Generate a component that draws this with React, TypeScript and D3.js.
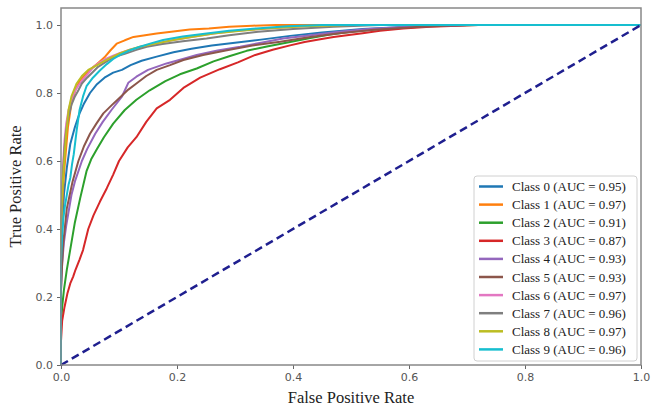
import { useEffect, useRef } from 'react';
import * as d3 from 'd3';

// ROC points, one pair of arrays per class
const classNames = ['Class 0', 'Class 1', 'Class 2', 'Class 3', 'Class 4', 'Class 5', 'Class 6', 'Class 7', 'Class 8', 'Class 9'];
const aucValues = ['0.95', '0.97', '0.91', '0.87', '0.93', '0.93', '0.97', '0.96', '0.97', '0.96'];

const fpr0 = [0, 0, 0.002, 0.005, 0.01, 0.016, 0.024, 0.032, 0.04, 0.05, 0.062, 0.075, 0.09, 0.105, 0.12, 0.139, 0.165, 0.194, 0.225, 0.26, 0.3, 0.345, 0.395, 0.45, 0.52, 0.6, 0.68, 0.8, 1];
const tpr0 = [0, 0.28, 0.4, 0.5, 0.58, 0.65, 0.7, 0.74, 0.77, 0.8, 0.826, 0.845, 0.86, 0.868, 0.882, 0.895, 0.907, 0.92, 0.93, 0.94, 0.948, 0.957, 0.968, 0.978, 0.988, 0.995, 1, 1, 1];

const fpr1 = [0, 0, 0.001, 0.003, 0.005, 0.008, 0.012, 0.018, 0.025, 0.033, 0.045, 0.055, 0.065, 0.075, 0.085, 0.096, 0.11, 0.125, 0.145, 0.165, 0.19, 0.222, 0.255, 0.29, 0.33, 0.37, 1];
const tpr1 = [0, 0.3, 0.42, 0.5, 0.56, 0.62, 0.7, 0.77, 0.81, 0.838, 0.86, 0.875, 0.89, 0.905, 0.925, 0.945, 0.955, 0.965, 0.97, 0.975, 0.98, 0.987, 0.99, 0.995, 0.998, 1, 1];

const fpr2 = [0, 0, 0.002, 0.005, 0.01, 0.016, 0.024, 0.033, 0.044, 0.052, 0.062, 0.074, 0.09, 0.11, 0.13, 0.153, 0.18, 0.205, 0.234, 0.263, 0.29, 0.32, 0.355, 0.395, 0.43, 0.464, 0.5, 0.55, 0.6, 0.65, 0.72, 1];
const tpr2 = [0, 0.12, 0.17, 0.22, 0.28, 0.34, 0.42, 0.49, 0.57, 0.605, 0.635, 0.67, 0.71, 0.75, 0.78, 0.808, 0.835, 0.855, 0.872, 0.893, 0.908, 0.924, 0.937, 0.95, 0.962, 0.972, 0.98, 0.988, 0.994, 0.998, 1, 1];

const fpr3 = [0, 0, 0.002, 0.006, 0.011, 0.016, 0.021, 0.025, 0.032, 0.038, 0.047, 0.056, 0.067, 0.079, 0.09, 0.1, 0.115, 0.13, 0.147, 0.165, 0.188, 0.211, 0.24, 0.274, 0.305, 0.335, 0.365, 0.395, 0.42, 0.447, 0.47, 0.493, 0.52, 0.55, 0.59, 0.636, 0.72, 0.8, 1];
const tpr3 = [0, 0.07, 0.13, 0.17, 0.21, 0.24, 0.26, 0.28, 0.31, 0.338, 0.4, 0.44, 0.48, 0.52, 0.56, 0.6, 0.64, 0.67, 0.715, 0.755, 0.78, 0.815, 0.845, 0.87, 0.89, 0.912, 0.927, 0.94, 0.95, 0.958, 0.965, 0.97, 0.976, 0.983, 0.99, 0.995, 1, 1, 1];

const fpr4 = [0, 0, 0.002, 0.005, 0.009, 0.013, 0.018, 0.024, 0.03, 0.036, 0.045, 0.059, 0.072, 0.087, 0.105, 0.116, 0.13, 0.15, 0.182, 0.21, 0.234, 0.27, 0.309, 0.345, 0.383, 0.43, 0.48, 0.53, 0.6, 0.7, 1];
const tpr4 = [0, 0.22, 0.3, 0.36, 0.41, 0.45, 0.5, 0.54, 0.57, 0.6, 0.635, 0.68, 0.715, 0.75, 0.789, 0.83, 0.848, 0.868, 0.887, 0.9, 0.912, 0.925, 0.936, 0.948, 0.96, 0.97, 0.98, 0.988, 0.995, 1, 1];

const fpr5 = [0, 0, 0.002, 0.004, 0.007, 0.01, 0.015, 0.02, 0.025, 0.03, 0.04, 0.05, 0.061, 0.073, 0.088, 0.103, 0.116, 0.13, 0.147, 0.165, 0.188, 0.211, 0.245, 0.286, 0.33, 0.378, 0.43, 0.48, 0.54, 0.62, 0.7, 1];
const tpr5 = [0, 0.22, 0.3, 0.36, 0.41, 0.46, 0.5, 0.54, 0.57, 0.6, 0.645, 0.68, 0.71, 0.74, 0.765, 0.789, 0.81, 0.828, 0.85, 0.868, 0.882, 0.897, 0.912, 0.926, 0.94, 0.951, 0.965, 0.976, 0.986, 0.995, 1, 1];

const fpr6 = [0, 0, 0.001, 0.002, 0.004, 0.006, 0.009, 0.013, 0.018, 0.024, 0.03, 0.038, 0.047, 0.056, 0.067, 0.079, 0.09, 0.102, 0.12, 0.14, 0.165, 0.194, 0.225, 0.263, 0.3, 0.355, 0.42, 0.5, 1];
const tpr6 = [0, 0.35, 0.45, 0.52, 0.6, 0.66, 0.71, 0.75, 0.78, 0.805, 0.822, 0.84, 0.858, 0.877, 0.89, 0.902, 0.91, 0.918, 0.928, 0.937, 0.946, 0.956, 0.965, 0.975, 0.982, 0.99, 0.996, 1, 1];

const fpr7 = [0, 0, 0.001, 0.002, 0.004, 0.006, 0.009, 0.013, 0.018, 0.024, 0.03, 0.036, 0.045, 0.055, 0.064, 0.076, 0.09, 0.11, 0.13, 0.148, 0.175, 0.21, 0.251, 0.29, 0.34, 0.4, 0.47, 0.55, 1];
const tpr7 = [0, 0.33, 0.43, 0.5, 0.58, 0.64, 0.69, 0.73, 0.765, 0.79, 0.808, 0.828, 0.845, 0.862, 0.877, 0.89, 0.905, 0.915, 0.927, 0.936, 0.944, 0.952, 0.96, 0.97, 0.98, 0.988, 0.995, 1, 1];

const fpr8 = [0, 0, 0.001, 0.002, 0.004, 0.006, 0.009, 0.013, 0.018, 0.027, 0.036, 0.047, 0.06, 0.073, 0.087, 0.102, 0.12, 0.136, 0.165, 0.194, 0.225, 0.263, 0.31, 0.355, 0.42, 0.5, 1];
const tpr8 = [0, 0.38, 0.46, 0.5, 0.56, 0.61, 0.68, 0.75, 0.79, 0.828, 0.85, 0.868, 0.88, 0.892, 0.905, 0.917, 0.928, 0.936, 0.946, 0.956, 0.965, 0.975, 0.983, 0.99, 0.996, 1, 1];

const fpr9 = [0, 0, 0.002, 0.004, 0.007, 0.01, 0.013, 0.016, 0.019, 0.022, 0.027, 0.032, 0.038, 0.044, 0.055, 0.067, 0.079, 0.09, 0.102, 0.118, 0.136, 0.155, 0.176, 0.21, 0.251, 0.29, 0.337, 0.39, 0.45, 1];
const tpr9 = [0, 0.3, 0.38, 0.43, 0.47, 0.5, 0.53, 0.55, 0.59, 0.62, 0.69, 0.75, 0.79, 0.82, 0.845, 0.866, 0.885, 0.9, 0.912, 0.925, 0.936, 0.946, 0.956, 0.966, 0.975, 0.983, 0.99, 0.996, 1, 1];

const fprAll = [fpr0, fpr1, fpr2, fpr3, fpr4, fpr5, fpr6, fpr7, fpr8, fpr9];
const tprAll = [tpr0, tpr1, tpr2, tpr3, tpr4, tpr5, tpr6, tpr7, tpr8, tpr9];

const xTicks = [0, 0.2, 0.4, 0.6, 0.8, 1.0];
const yTicks = [0, 0.2, 0.4, 0.6, 0.8, 1.0];

const RocChart = () => {
  const svgRef = useRef(null);

  useEffect(() => {
    document.body.style.margin = '0';
    const svgEl = d3.select(svgRef.current);
    svgEl.selectAll('*').remove();

    const width = 661;
    const height = 412;
    const margin = { top: 8, right: 20, bottom: 47, left: 61 };
    const innerW = width - margin.left - margin.right;
    const innerH = height - margin.top - margin.bottom;

    svgEl.attr('width', width).attr('height', height);
    const svg = svgEl.append('g').attr('transform', `translate(${margin.left},${margin.top})`);

    const x = d3.scaleLinear().domain([0, 1]).range([0, innerW]);
    const y = d3.scaleLinear().domain([0, 1.05]).range([innerH, 0]);
    const color = d3.scaleOrdinal<string>().domain(classNames).range(d3.schemeCategory10);

    // Axes
    const xAxis = svg.append('g')
      .attr('transform', `translate(0,${innerH})`)
      .call(d3.axisBottom(x).tickValues(xTicks).tickFormat(d3.format('.1f')).tickSize(4).tickPadding(4));
    const yAxis = svg.append('g')
      .call(d3.axisLeft(y).tickValues(yTicks).tickFormat(d3.format('.1f')).tickSize(4).tickPadding(4));
    [xAxis, yAxis].forEach(a => {
      a.select('.domain').remove();
      a.selectAll('line').attr('stroke', '#666').attr('stroke-width', 1);
      a.selectAll('text')
        .attr('fill', '#555')
        .style('font-family', '"DejaVu Sans", sans-serif')
        .style('font-size', '11px');
    });

    // Curves
    const line = d3.line<[number, number]>()
      .x(d => x(d[0]))
      .y(d => y(d[1]));

    const plot = svg.append('g');
    classNames.forEach((name, i) => {
      const pts: [number, number][] = fprAll[i].map((f, j) => [f, tprAll[i][j]]);
      plot.append('path')
        .datum(pts)
        .attr('d', line)
        .attr('fill', 'none')
        .attr('stroke', color(name))
        .attr('stroke-width', 2)
        .attr('stroke-linejoin', 'round');
    });

    // Chance diagonal
    plot.append('path')
      .datum([[0, 0], [1, 1]] as [number, number][])
      .attr('d', line)
      .attr('fill', 'none')
      .attr('stroke', '#1f1f8f')
      .attr('stroke-width', 2.5)
      .attr('stroke-dasharray', '8,4.5');

    // Frame
    svg.append('rect')
      .attr('width', innerW)
      .attr('height', innerH)
      .attr('fill', 'none')
      .attr('stroke', '#888')
      .attr('stroke-width', 1.5);

    // Axis labels
    svg.append('text')
      .attr('x', innerW / 2)
      .attr('y', innerH + 38)
      .attr('text-anchor', 'middle')
      .style('font-family', '"Liberation Serif", serif')
      .style('font-size', '16.5px')
      .attr('fill', '#222')
      .text('False Positive Rate');

    svg.append('text')
      .attr('transform', `translate(${-40},${innerH / 2}) rotate(-90)`)
      .attr('text-anchor', 'middle')
      .style('font-family', '"Liberation Serif", serif')
      .style('font-size', '16.5px')
      .attr('fill', '#222')
      .text('True Positive Rate');

    // Legend
    const lg = svg.append('g').attr('transform', `translate(${474 - margin.left},${176 - margin.top})`);
    lg.append('rect')
      .attr('width', 163)
      .attr('height', 185)
      .attr('rx', 3)
      .attr('fill', 'white')
      .attr('fill-opacity', 0.85)
      .attr('stroke', '#d0d0d0');

    classNames.forEach((name, i) => {
      const row = lg.append('g').attr('transform', `translate(0,${10.5 + i * 18.1})`);
      row.append('line')
        .attr('x1', 5).attr('x2', 29)
        .attr('stroke', color(name))
        .attr('stroke-width', 2.5);
      row.append('text')
        .attr('x', 38)
        .attr('dy', '0.35em')
        .style('font-family', '"Liberation Serif", serif')
        .style('font-size', '13px')
        .attr('fill', '#222')
        .text(`${name} (AUC = ${aucValues[i]})`);
    });
  }, []);

  return <svg ref={svgRef}></svg>;
};

export default function App() {
  return <RocChart />;
}
